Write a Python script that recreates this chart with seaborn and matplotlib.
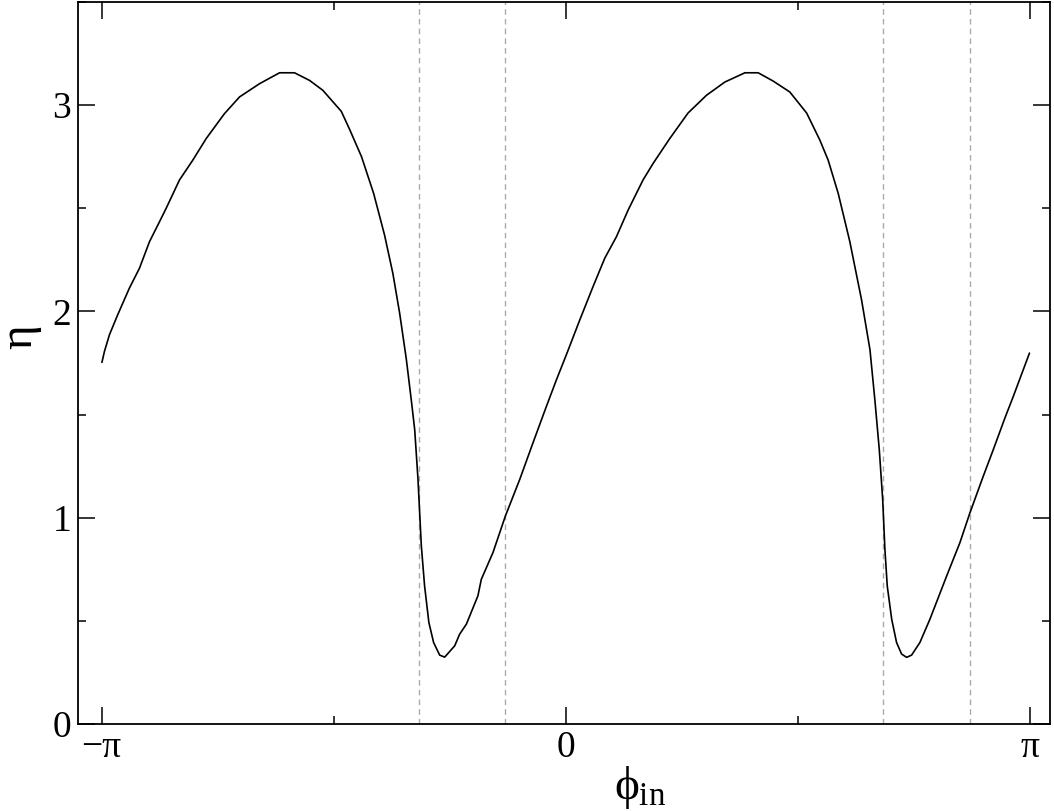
import numpy as np
import matplotlib
matplotlib.use("Agg")
import matplotlib.pyplot as plt
import seaborn as sns

# data
phi = [-3.140, -3.123, -3.089, -3.033, -2.954, -2.886, -2.818, -2.750, -2.705,
       -2.615, -2.525, -2.434, -2.310, -2.208, -2.073, -1.937, -1.836, -1.734,
       -1.644, -1.519, -1.463, -1.382, -1.300, -1.226, -1.170, -1.124, -1.079,
       -1.045, -1.022, -1.000, -0.977, -0.955, -0.926, -0.894, -0.853, -0.819,
       -0.751, -0.718, -0.672, -0.594, -0.571, -0.492, -0.408, -0.311, -0.221,
       -0.130, -0.062, 0.005, 0.096, 0.186, 0.265, 0.344, 0.423, 0.524, 0.592,
       0.705, 0.829, 0.954, 1.078, 1.214, 1.304, 1.405, 1.518, 1.632, 1.722,
       1.778, 1.846, 1.924, 2.004, 2.061, 2.094, 2.124, 2.147, 2.162, 2.178,
       2.208, 2.241, 2.275, 2.309, 2.343, 2.399, 2.467, 2.580, 2.670, 2.738,
       2.828, 2.896, 2.975, 3.032, 3.141]
eta = [1.753, 1.806, 1.887, 1.984, 2.113, 2.209, 2.338, 2.435, 2.500,
       2.637, 2.733, 2.838, 2.959, 3.040, 3.104, 3.157, 3.157, 3.120,
       3.072, 2.970, 2.883, 2.750, 2.572, 2.370, 2.185, 1.992, 1.770,
       1.570, 1.427, 1.190, 0.863, 0.669, 0.492, 0.395, 0.334, 0.324,
       0.379, 0.435, 0.484, 0.621, 0.701, 0.831, 1.008, 1.185, 1.363,
       1.540, 1.669, 1.790, 1.959, 2.121, 2.258, 2.362, 2.491, 2.637, 2.717,
       2.838, 2.962, 3.048, 3.112, 3.157, 3.157, 3.117, 3.064, 2.962, 2.830,
       2.733, 2.572, 2.340, 2.056, 1.814, 1.572, 1.330, 1.089, 0.847, 0.669,
       0.508, 0.395, 0.339, 0.323, 0.334, 0.395, 0.508, 0.717, 0.879, 1.024,
       1.201, 1.330, 1.484, 1.589, 1.798]

# dashed markers
vlines = [-0.99, -0.408, 2.15, 2.738]

xtick_pos = [-np.pi, 0, np.pi]
xtick_lab = ["\u2212\u03c0", "0", "\u03c0"]
ytick_pos = [0, 1, 2, 3]

sns.set_style("ticks")
plt.rcParams["font.family"] = ["Liberation Serif", "DejaVu Serif"]
plt.rcParams["mathtext.fontset"] = "custom"
plt.rcParams["mathtext.rm"] = "Liberation Serif"
plt.rcParams["mathtext.it"] = "Liberation Serif"
for k in ["text.color", "axes.labelcolor", "xtick.color", "ytick.color", "axes.edgecolor"]:
    plt.rcParams[k] = "black"

fig = plt.figure(figsize=(10.54, 8.11), dpi=100)
ax = fig.add_axes([0.074, 0.1073, 0.9222, 0.8902])

for v in vlines:
    ax.axvline(v, color="#aaaaaa", linestyle=(0, (4, 3)), linewidth=1.0, zorder=1)

sns.lineplot(x=phi, y=eta, sort=False, color="black", linewidth=1.2, ax=ax, zorder=3)

ax.set_xlim(-3.302, 3.28)
ax.set_ylim(0, 3.5)
ax.set_xticks(xtick_pos)
ax.set_xticklabels(xtick_lab, fontsize=27)
ax.set_xticks([-np.pi / 2, np.pi / 2], minor=True)
ax.set_yticks(ytick_pos)
ax.set_yticklabels([str(t) for t in ytick_pos], fontsize=27)
ax.set_yticks([0.5, 1.5, 2.5, 3.5], minor=True)

ax.tick_params(which="both", direction="in", top=True, right=True, width=1.1, color="black")
ax.tick_params(which="major", length=12, pad=5)
ax.tick_params(which="minor", length=6)
for s in ax.spines.values():
    s.set_linewidth(1.3)
    s.set_color("black")

ax.set_xlabel(r"$\phi_{\rm in}$", fontsize=34)
ax.set_ylabel("\u03b7", fontsize=34)
ax.xaxis.set_label_coords(0.578, -0.056)
ax.yaxis.set_label_coords(-0.038, 0.536)

fig.savefig("out.png", dpi=100)
